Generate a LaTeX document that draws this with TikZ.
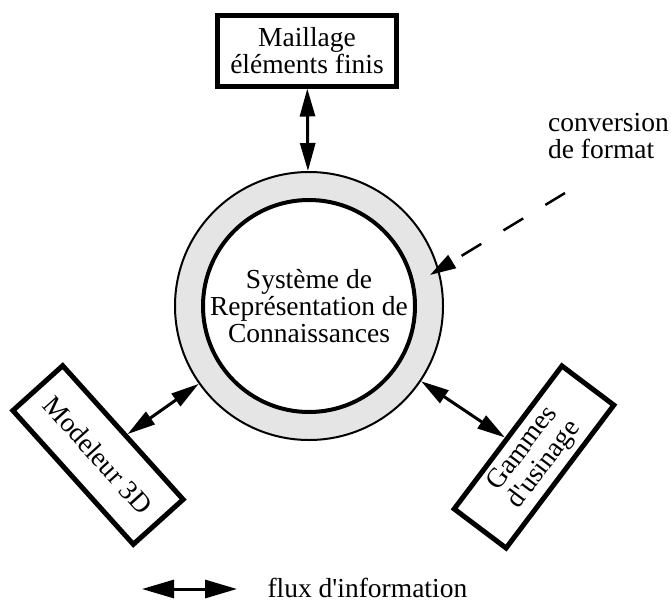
\documentclass[tikz,border=0pt]{standalone}
\usepackage{fontspec}
\setmainfont{Liberation Serif}
\usetikzlibrary{arrows.meta}
\begin{document}
\begin{tikzpicture}[x=1pt, y=-1pt,
  font=\fontsize{27.5}{27}\selectfont,
  outil/.style={draw, line width=5pt, fill=white, inner sep=0pt, align=center},
  flux/.style={line width=3pt, {Triangle[length=28pt,width=15pt]}-{Triangle[length=28pt,width=15pt]}}]
\useasboundingbox (0,0) rectangle (671,602);
% anneau du systeme
\node[circle, draw, line width=2pt, fill=black!10, minimum size=268pt, inner sep=0pt] (ring) at (309,306){};
\node[circle, draw, line width=4pt, fill=white, minimum size=212pt, inner sep=0pt, align=center] (core) at (309,306){Système de\\Représentation de\\Connaissances};
% outils
\node[outil, minimum width=179pt, minimum height=70pt] (maillage) at (307,51){Maillage\\éléments finis};
\node[outil, minimum width=180pt, minimum height=67pt, rotate=-48] (modeleur) at (98,455){Modeleur 3D};
\node[outil, minimum width=179pt, minimum height=65pt, rotate=53] (gammes) at (534,457){Gammes\\d\textquotesingle usinage};
\draw[flux] (maillage) -- (ring);
\draw[flux] (modeleur) -- (ring);
\draw[flux] (gammes) -- (ring);
% conversion de format
\node[anchor=base east, align=left, inner sep=1pt] (conv) at (670,158){conversion\\de format};
\coordinate (convtail) at (565,193);
\coordinate (convtip) at (430,275);
\draw[line width=2.5pt, dash pattern=on 23pt off 26pt, -{Triangle[length=26pt,width=15pt]}] (convtail) -- (convtip);
% legende
\coordinate (legL) at (142,589);
\coordinate (legR) at (237,589);
\draw[line width=3pt, {Triangle[length=32pt,width=18pt]}-{Triangle[length=32pt,width=18pt]}] (legL) -- (legR);
\node[anchor=base west] (legtext) at (264,597){flux d\textquotesingle information};
\end{tikzpicture}
\end{document}
